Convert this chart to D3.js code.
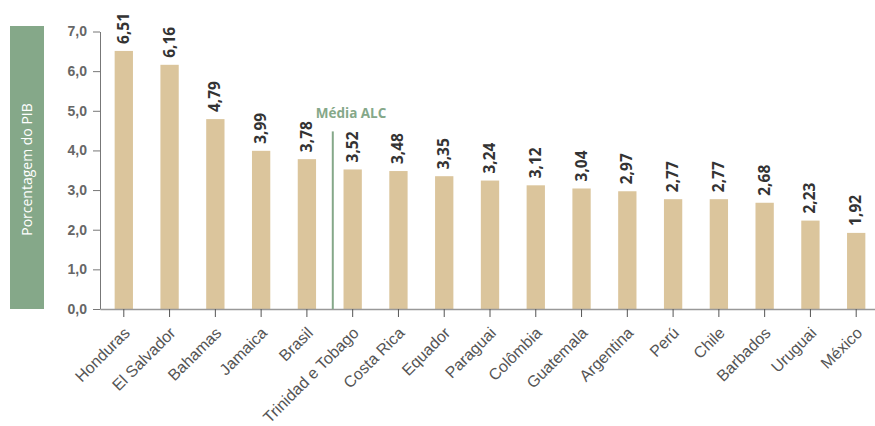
<!DOCTYPE html>
<html><head><meta charset="utf-8">
<script src="https://cdn.jsdelivr.net/npm/d3@7/dist/d3.min.js"></script>
<style>body{margin:0;background:#fff}svg{display:block;font-family:"Open Sans","Noto Sans",sans-serif}</style>
</head><body><svg id="c" width="875" height="426"></svg>
<script>
const countries = ["Honduras","El Salvador","Bahamas","Jamaica","Brasil","Trinidad e Tobago","Costa Rica","Equador","Paraguai","Colômbia","Guatemala","Argentina","Perú","Chile","Barbados","Uruguai","México"];
const values = [6.51,6.16,4.79,3.99,3.78,3.52,3.48,3.35,3.24,3.12,3.04,2.97,2.77,2.77,2.68,2.23,1.92];
const yTicks = [0,1,2,3,4,5,6,7];
const meanLabel = "Média ALC";
const meanLineTop = 4.48;
const yTitle = "Porcentagem do PIB";

const svg = d3.select("#c");
const y = d3.scaleLinear().domain([0,7]).range([309,31.5]);
const x = d3.scaleBand().domain(countries).range([100,880]).paddingInner(0.6).paddingOuter(0.32);
const fmt = v => d3.format(".2f")(v).replace(".", ",");
const fmt1 = v => d3.format(".1f")(v).replace(".", ",");

// y title box
svg.append("rect").attr("x",10).attr("y",26).attr("width",34).attr("height",283).attr("fill","#85a889");
svg.append("text").attr("transform",`translate(32,${(26+309)/2 + 2}) rotate(-90)`)
  .attr("text-anchor","middle").attr("fill","#fff").style("font-size","14px").text(yTitle);

// bars
svg.selectAll(".bar").data(values).join("rect")
  .attr("x",(d,i)=>x(countries[i])).attr("width",x.bandwidth())
  .attr("y",d=>y(d)).attr("height",d=>y(0)-y(d)).attr("fill","#dbc59c");

// y axis
const ya = svg.append("g").attr("transform","translate(100,0)")
  .call(d3.axisLeft(y).tickValues(yTicks).tickFormat(fmt1).tickSize(7).tickSizeOuter(0));
ya.select(".domain").attr("stroke","#777");
ya.selectAll(".tick line").attr("stroke","#777");
ya.selectAll("text").attr("fill","#666").style("font-size","14px").style("font-weight","bold").attr("x",-13);

// x axis
const xa = svg.append("g").attr("transform","translate(0,309)")
  .call(d3.axisBottom(x).tickSize(8).tickSizeOuter(0));
xa.select(".domain").attr("stroke","#999").attr("stroke-width",1.5);
xa.selectAll(".tick line").attr("stroke","#555");
xa.selectAll("text").attr("fill","#555").style("font-size","16px")
  .attr("text-anchor","end").attr("dy",null).attr("y",0)
  .attr("transform","translate(7,25) rotate(-45)");

// value labels
svg.selectAll(".val").data(values).join("text")
  .attr("transform",(d,i)=>`translate(${x(countries[i])+x.bandwidth()/2+5},${y(d)-7}) rotate(-90)`)
  .attr("fill","#333").style("font-size","15.5px").style("font-weight","bold").text(d=>fmt(d));

// mean line
const mx = (x("Brasil")+x.bandwidth() + x("Trinidad e Tobago"))/2 + 3;
svg.append("line").attr("x1",mx).attr("x2",mx).attr("y1",y(0)).attr("y2",y(meanLineTop))
  .attr("stroke","#85a889").attr("stroke-width",2);
svg.append("text").attr("x",mx-17).attr("y",y(meanLineTop)-13).attr("fill","#85a889")
  .style("font-size","13.5px").style("font-weight","bold").text(meanLabel);
</script></body></html>
